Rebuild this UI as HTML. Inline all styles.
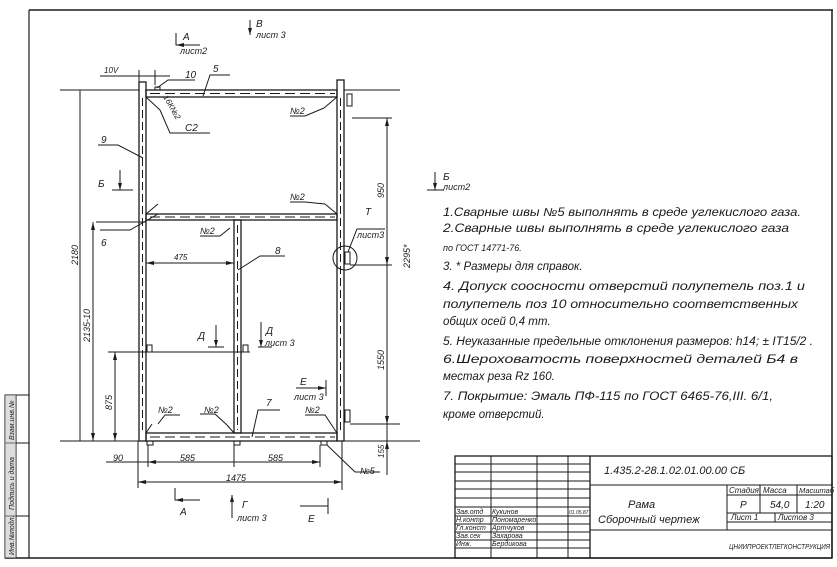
<!DOCTYPE html>
<html><head><meta charset="utf-8"><style>
html,body{margin:0;padding:0;background:#fff;}
svg{display:block;}
text{font-family:"Liberation Sans","DejaVu Sans",sans-serif;font-style:italic;fill:#1a1a1a;}
</style></head><body>
<svg width="837" height="567" viewBox="0 0 837 567" xmlns="http://www.w3.org/2000/svg">
<g stroke="#1a1a1a" stroke-width="1" fill="none">
<line x1="29" y1="10" x2="833" y2="10" stroke-width="1.5"/>
<line x1="832" y1="10" x2="832" y2="558" stroke-width="1.5"/>
<line x1="29" y1="10" x2="29" y2="558" stroke-width="1.2"/>
<line x1="5" y1="558" x2="832" y2="558" stroke-width="1.5"/>
<rect x="5" y="395" width="24" height="163"/>
<line x1="16" y1="395" x2="16" y2="558"/>
<line x1="5" y1="443" x2="29" y2="443"/>
<line x1="5" y1="516" x2="29" y2="516"/>
<rect x="5" y="395" width="11" height="163" fill="#bbb" stroke="none" opacity="0.5"/>

<rect x="139" y="82" width="7" height="359" stroke-width="1.3"/>
<rect x="337" y="80" width="7" height="361" stroke-width="1.3"/>
<line x1="142.5" y1="98" x2="142.5" y2="432" stroke-dasharray="8,4"/>
<line x1="340.5" y1="98" x2="340.5" y2="432" stroke-dasharray="8,4"/>
<rect x="146" y="90" width="191" height="7" stroke-width="1.3"/>
<rect x="146" y="214" width="191" height="6" stroke-width="1.3"/>
<rect x="146" y="433" width="191" height="8" stroke-width="1.3"/>
<line x1="150" y1="93.5" x2="335" y2="93.5" stroke-dasharray="10,5"/>
<line x1="150" y1="217" x2="335" y2="217" stroke-dasharray="10,5"/>
<line x1="150" y1="437" x2="335" y2="437" stroke-dasharray="10,5"/>
<rect x="234" y="220" width="7" height="213" stroke-width="1.3"/>
<line x1="237.5" y1="225" x2="237.5" y2="430" stroke-dasharray="8,4"/>
<line x1="146" y1="97" x2="160" y2="110"/>
<line x1="337" y1="97" x2="324" y2="108"/>
<line x1="146" y1="214" x2="158" y2="204"/>
<line x1="337" y1="214" x2="325" y2="204"/>
<line x1="146" y1="433" x2="152" y2="424"/>
<line x1="337" y1="433" x2="331" y2="424"/>
<line x1="234" y1="433" x2="227" y2="425"/>
<line x1="60" y1="90" x2="139" y2="90"/>
<line x1="344" y1="90" x2="400" y2="90"/>
<line x1="60" y1="441" x2="420" y2="441"/>
<rect x="347" y="94" width="5" height="12"/>
<rect x="345" y="252" width="5" height="12"/>
<circle cx="345" cy="258" r="12"/>
<rect x="345" y="410" width="5" height="12"/>
<rect x="147" y="345" width="5" height="7"/>
<rect x="243" y="345" width="5" height="7"/>
<rect x="147" y="441" width="6" height="4"/>
<rect x="234" y="441" width="6" height="4"/>
<rect x="321" y="441" width="6" height="4"/>
<rect x="155" y="87" width="5" height="3"/>

<line x1="93" y1="222" x2="93" y2="441"/>
<line x1="80" y1="90" x2="80" y2="441"/>
<line x1="115" y1="352" x2="115" y2="441"/>
<line x1="108" y1="352" x2="250" y2="352"/>
<line x1="96" y1="222" x2="146" y2="222"/>
<line x1="146" y1="263" x2="234" y2="263"/>
<line x1="387" y1="118" x2="387" y2="475"/>
<line x1="352" y1="118" x2="392" y2="118"/>
<line x1="350" y1="265" x2="392" y2="265"/>
<line x1="350" y1="424" x2="400" y2="424"/>
<line x1="106" y1="462" x2="320" y2="462"/>
<line x1="148" y1="445" x2="148" y2="467"/>
<line x1="234" y1="445" x2="234" y2="467"/>
<line x1="320" y1="445" x2="320" y2="467"/>
<line x1="138" y1="482" x2="342" y2="482"/>
<line x1="138" y1="441" x2="138" y2="488"/>
<line x1="342" y1="441" x2="342" y2="490"/>
<line x1="100" y1="76" x2="170" y2="76"/>
<line x1="139" y1="70" x2="139" y2="82"/>
<line x1="155" y1="70" x2="155" y2="85"/>
<polyline points="157,88 168,80 195,80"/>
<polyline points="203,96 210,75 230,75"/>
<polyline points="160,110 170,133 210,133"/>
<polyline points="324,108 305,116 290,116"/>
<polyline points="143,158 118,145 98,145"/>
<polyline points="158,214 130,230 100,230"/>
<polyline points="325,204 305,202 290,202"/>
<polyline points="230,228 220,236 200,236"/>
<polyline points="238,270 260,256 285,256"/>
<polyline points="158,424 165,415 180,415"/>
<polyline points="227,425 215,414 200,414"/>
<polyline points="331,424 325,415 305,415"/>
<polyline points="252,437 258,410 280,410"/>
<polyline points="327,445 355,472 380,472"/>
<polyline points="348,252 357,229 385,229"/>
<polyline points="176,33 176,45 200,45"/>
<line x1="250" y1="20" x2="250" y2="35"/>
<line x1="120" y1="170" x2="120" y2="190"/><line x1="112" y1="190" x2="133" y2="190"/>
<line x1="216" y1="325" x2="216" y2="347"/><line x1="208" y1="347" x2="224" y2="347"/>
<line x1="261" y1="322" x2="261" y2="347"/><line x1="258" y1="347" x2="272" y2="347"/>
<polyline points="296,388 326,388"/><line x1="326" y1="380" x2="326" y2="396"/>
<polyline points="175,488 175,500 200,500"/>
<line x1="232" y1="495" x2="232" y2="518"/>
<polyline points="300,506 328,506"/><line x1="328" y1="498" x2="328" y2="514"/>
<line x1="435" y1="172" x2="435" y2="190"/><line x1="427" y1="190" x2="444" y2="190"/>

<rect x="455" y="456" width="377" height="102" stroke-width="1.3"/>
<line x1="491" y1="456" x2="491" y2="558"/>
<line x1="537" y1="456" x2="537" y2="558"/>
<line x1="568" y1="456" x2="568" y2="558"/>
<line x1="590" y1="456" x2="590" y2="558" stroke-width="1.3"/>
<line x1="455" y1="464" x2="590" y2="464"/><line x1="455" y1="472" x2="590" y2="472"/>
<line x1="455" y1="481" x2="590" y2="481"/><line x1="455" y1="489" x2="590" y2="489"/>
<line x1="455" y1="498" x2="590" y2="498"/><line x1="455" y1="507" x2="590" y2="507"/>
<line x1="455" y1="516" x2="590" y2="516"/><line x1="455" y1="524" x2="590" y2="524"/>
<line x1="455" y1="532" x2="590" y2="532"/><line x1="455" y1="540" x2="590" y2="540"/>
<line x1="455" y1="548" x2="590" y2="548"/>
<line x1="590" y1="485" x2="832" y2="485"/>
<line x1="727" y1="485" x2="727" y2="530"/>
<line x1="727" y1="495" x2="832" y2="495"/>
<line x1="727" y1="513" x2="832" y2="513"/>
<line x1="727" y1="522" x2="832" y2="522"/>
<line x1="590" y1="530" x2="832" y2="530"/>
<line x1="760" y1="485" x2="760" y2="513"/>
<line x1="797" y1="485" x2="797" y2="513"/>
<line x1="775" y1="513" x2="775" y2="522"/>
</g>
<g fill="#1a1a1a">
<polygon points="93,222 91,230 95,230"/><polygon points="93,441 91,433 95,433"/>
<polygon points="115,352 113,360 117,360"/><polygon points="115,441 113,433 117,433"/>
<polygon points="387,118 385,126 389,126"/><polygon points="387,265 385,257 389,257"/>
<polygon points="387,424 385,416 389,416"/><polygon points="387,441 385,449 389,449"/>
<polygon points="146,263 154,261 154,265"/><polygon points="234,263 226,261 226,265"/>
<polygon points="138,482 146,480 146,484"/><polygon points="342,482 334,480 334,484"/>
<polygon points="148,462 156,460 156,464"/><polygon points="320,462 312,460 312,464"/>
<polygon points="250,35 248,28 252,28"/><polygon points="120,190 118,183 122,183"/>
<polygon points="216,347 214,340 218,340"/><polygon points="261,347 259,340 263,340"/>
<polygon points="326,388 318,386 318,390"/><polygon points="176,45 184,43 184,47"/>
<polygon points="175,500 183,498 183,502"/><polygon points="232,495 230,502 234,502"/>
<polygon points="435,190 433,183 437,183"/>
</g>
<g font-size="10">
<text x="183" y="40">А</text><text x="180" y="54" font-size="9">лист2</text>
<text x="256" y="27">В</text><text x="256" y="38" font-size="9">лист 3</text>
<text x="104" y="73" font-size="8">10V</text>
<text x="185" y="78">10</text><text x="213" y="72">5</text>
<text x="185" y="131">С2</text>
<text transform="translate(163,97) rotate(60)" font-size="8">16К№2</text>
<text x="290" y="114" font-size="9">№2</text>
<text x="101" y="143">9</text>
<text x="98" y="187">Б</text>
<text x="290" y="200" font-size="9">№2</text>
<text x="200" y="234" font-size="9">№2</text>
<text x="101" y="246">6</text>
<text x="275" y="254">8</text>
<text x="174" y="260" font-size="8">475</text>
<text x="198" y="339">Д</text>
<text x="266" y="334">Д</text><text x="265" y="346" font-size="9">лист 3</text>
<text x="300" y="385">Е</text><text x="294" y="400" font-size="9">лист 3</text>
<text x="158" y="413" font-size="9">№2</text>
<text x="204" y="413" font-size="9">№2</text>
<text x="305" y="413" font-size="9">№2</text>
<text x="266" y="406">7</text>
<text x="360" y="474" font-size="9">№5</text>
<text x="365" y="215">Т</text><text x="357" y="238" font-size="9">лист3</text>
<text x="113" y="461" font-size="9">90</text>
<text x="180" y="461" font-size="9">585</text>
<text x="268" y="461" font-size="9">585</text>
<text x="226" y="481" font-size="9">1475</text>
<text x="180" y="515">А</text>
<text x="242" y="508">Г</text><text x="237" y="521" font-size="9">лист 3</text>
<text x="308" y="522">Е</text>
<text transform="translate(78,265) rotate(-90)" font-size="9">2180</text>
<text transform="translate(90,342) rotate(-90)" font-size="9">2135-10</text>
<text transform="translate(112,410) rotate(-90)" font-size="9">875</text>
<text transform="translate(384,198) rotate(-90)" font-size="9">950</text>
<text transform="translate(384,370) rotate(-90)" font-size="9">1550</text>
<text transform="translate(384,458) rotate(-90)" font-size="8">155</text>
<text transform="translate(410,268) rotate(-90)" font-size="9">2295*</text>
<text x="443" y="180">Б</text><text x="443" y="190" font-size="9">лист2</text>
</g>
<g font-size="11.5">
<text x="443" y="216" textLength="358" lengthAdjust="spacingAndGlyphs">1.Сварные  швы  №5 выполнять  в среде  углекислого  газа.</text>
<text x="443" y="232" textLength="346" lengthAdjust="spacingAndGlyphs">2.Сварные  швы выполнять  в среде  углекислого  газа</text>
<text x="443" y="251" font-size="9">по ГОСТ 14771-76.</text>
<text x="443" y="270">3. * Размеры для  справок.</text>
<text x="443" y="290" textLength="362" lengthAdjust="spacingAndGlyphs">4. Допуск  соосности  отверстий  полупетель  поз.1 и</text>
<text x="443" y="308" textLength="355" lengthAdjust="spacingAndGlyphs">полупетель  поз 10  относительно  соответственных</text>
<text x="443" y="325">общих осей  0,4 mm.</text>
<text x="443" y="345" textLength="370" lengthAdjust="spacingAndGlyphs">5. Неуказанные  предельные  отклонения  размеров: h14; ± IT15/2 .</text>
<text x="443" y="363" textLength="355" lengthAdjust="spacingAndGlyphs">6.Шероховатость   поверхностей  деталей  Б4  в</text>
<text x="443" y="380">местах  реза  Rz 160.</text>
<text x="443" y="400" textLength="330" lengthAdjust="spacingAndGlyphs">7. Покрытие: Эмаль ПФ-115 по ГОСТ 6465-76,III. 6/1,</text>
<text x="443" y="418">кроме  отверстий.</text>
</g>
<g font-size="7">
<text x="456" y="514">Зав.отд</text><text x="492" y="514">Кукинов</text>
<text x="456" y="522">Н.контр</text><text x="492" y="522">Пономаренко</text>
<text x="456" y="530">Гл.конст</text><text x="492" y="530">Артчуков</text>
<text x="456" y="538">Зав.сек</text><text x="492" y="538">Захарова</text>
<text x="456" y="546">Инж.</text><text x="492" y="546">Бердикова</text>
<text x="569" y="514" font-size="5">01.05.87</text>
<text x="604" y="474" font-size="11">1.435.2-28.1.02.01.00.00 СБ</text>
<text x="628" y="508" font-size="11">Рама</text>
<text x="598" y="523" font-size="11">Сборочный   чертеж</text>
<text x="729" y="493" font-size="8">Стадия</text><text x="763" y="493" font-size="8">Масса</text><text x="799" y="493" font-size="7.5">Масштаб</text>
<text x="740" y="508" font-size="10">Р</text><text x="770" y="508" font-size="10">54,0</text><text x="805" y="508" font-size="10">1:20</text>
<text x="731" y="520" font-size="8">Лист  1</text><text x="778" y="520" font-size="8">Листов  3</text>
<text x="729" y="549" font-size="7" textLength="101" lengthAdjust="spacingAndGlyphs">ЦНИИПРОЕКТЛЕГКОНСТРУКЦИЯ</text>
</g>
<g font-size="7" fill="#1a1a1a">
<text transform="translate(14,555) rotate(-90)">Инв.№подл.</text>
<text transform="translate(14,510) rotate(-90)">Подпись и дата</text>
<text transform="translate(14,440) rotate(-90)">Взам.инв.№</text>
</g>
</svg>
</body></html>
